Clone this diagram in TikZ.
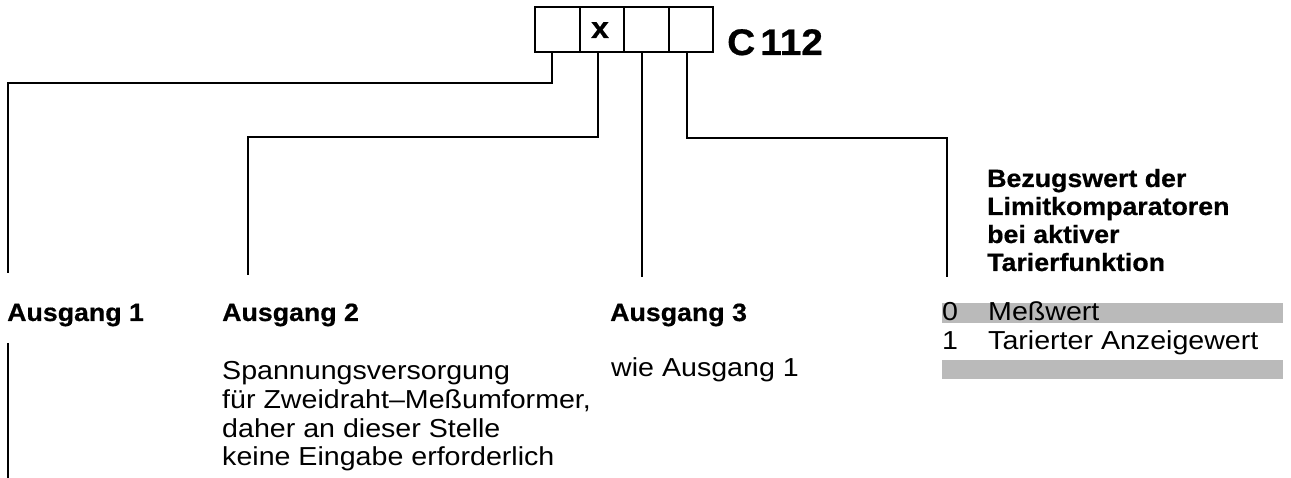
\documentclass[tikz,border=0pt]{standalone}
\usepackage{fontspec}
\setmainfont{Liberation Sans}
\newfontfamily\rgf{Liberation Sans}[FakeStretch=1.1]
\newfontfamily\bdf{Liberation Sans}[FakeStretch=1.07, BoldFeatures={FakeBold=0.6}]
\newfontfamily\tif{Liberation Sans}[FakeStretch=1.05, BoldFeatures={FakeBold=0.6}]
\begin{document}
\begin{tikzpicture}[x=1pt,y=-1pt,
  cell/.style={draw, line width=1.6pt, minimum width=44.5pt, minimum height=45pt, inner sep=0pt},
  wire/.style={line width=1.6pt},
  bl/.style={anchor=base west, inner sep=0pt, font=\bdf\bfseries\fontsize{25}{28}\selectfont},
  rl/.style={anchor=base west, inner sep=0pt, font=\rgf\fontsize{26}{28}\selectfont},
  band/.style={fill=black!27}
]
\useasboundingbox (0,0) rectangle (1291,478);
% code boxes
\node[cell] (b1) at (557.5,29.5) {};
\node[cell] (b2) at (602,29.5) {};
\node[cell] (b3) at (646.5,29.5) {};
\node[cell] (b4) at (691,29.5) {};
\node[anchor=base, inner sep=0pt, font=\bdf\bfseries\fontsize{30}{30}\selectfont] (xm) at (600,38) {x};
\node[anchor=base west, inner sep=0pt, font=\tif\bfseries\fontsize{37}{40}\selectfont] (code) at (727,55) {C\hspace{5pt}112};
% line end points
\coordinate (e1) at (8,273);
\coordinate (e2) at (248,275);
\coordinate (e3) at (642,277);
\coordinate (e4) at (947,277);
\coordinate (s1) at (552,52);
\coordinate (s2) at (598,52);
\coordinate (s3) at (642,52);
\coordinate (s4) at (687,52);
\draw[wire] (s1) -- (552,83) -| (e1);
\draw[wire] (s2) -- (598,137) -| (e2);
\draw[wire] (s3) -- (e3);
\draw[wire] (s4) -- (687,138) -| (e4);
\coordinate (f1) at (8,343);
\coordinate (f2) at (8,478);
\draw[wire] (f1) -- (f2);
% shaded bands
\fill[band] (942,303) rectangle (1283,323);
\fill[band] (942,360) rectangle (1283,379);
% headings
\node[bl] (a1) at (7,321) {Ausgang 1};
\node[bl] (a2) at (222,321) {Ausgang 2};
\node[bl] (a3) at (610,321) {Ausgang 3};
\node[bl] (h1) at (987,187) {Bezugswert der};
\node[bl] (h2) at (987,215) {Limitkomparatoren};
\node[bl] (h3) at (987,243) {bei aktiver};
\node[bl] (h4) at (987,271) {Tarierfunktion};
% rows
\node[rl] (r0) at (942,321) {0};
\node[rl] (r0t) at (988,321) {Meßwert};
\node[rl] (r1) at (942,350) {1};
\node[rl] (r1t) at (988,350) {Tarierter Anzeigewert};
% descriptions
\node[rl] (d1) at (222,380) {Spannungsversorgung};
\node[rl] (d2) at (222,408) {für Zweidraht–Meßumformer,};
\node[rl] (d3) at (222,437) {daher an dieser Stelle};
\node[rl] (d4) at (222,465) {keine Eingabe erforderlich};
\node[rl] (w1) at (611,377) {wie Ausgang 1};
\end{tikzpicture}
\end{document}
